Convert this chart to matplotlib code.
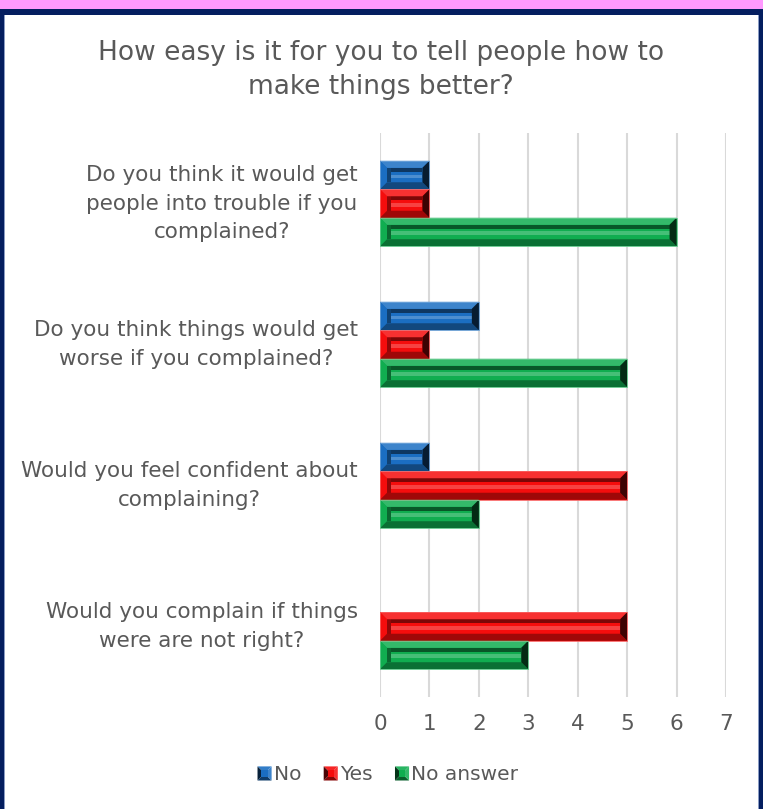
import numpy as np
import matplotlib.pyplot as plt
import matplotlib.colors as mcolors
from matplotlib.patches import Polygon, Rectangle
from matplotlib.legend_handler import HandlerBase

# survey answers per question
categories = [
    "Do you think it would get\npeople into trouble if you\ncomplained?",
    "Do you think things would get\nworse if you complained?",
    "Would you feel confident about\ncomplaining?",
    "Would you complain if things\nwere are not right?",
]
series_names = ["No", "Yes", "No answer"]
no_vals = [1, 2, 1, 0]
yes_vals = [1, 1, 5, 5]
no_answer_vals = [6, 5, 2, 3]
x_ticks = [0, 1, 2, 3, 4, 5, 6, 7]

series_vals = [no_vals, yes_vals, no_answer_vals]
colors = ["#1b6ec2", "#f50d0d", "#10ad50"]
text_col = "#595959"
FONT = "DejaVu Sans"

W, H, DPI = 763, 809, 100


def shade(c, f):
    r = np.array(mcolors.to_rgb(c))
    if f >= 0:
        return tuple(r + (1 - r) * f)
    return tuple(r * (1 + f))


def bevel_bar(ax, x0, yc, w, h, color, b=7, inner=4):
    """Draws one bar with a raised bevel frame (computed in pixels)."""
    if w <= 0:
        return
    td = ax.transData
    (L, B) = td.transform((x0, yc + h / 2))
    (R, T) = td.transform((x0 + w, yc - h / 2))
    B, T = min(B, T), max(B, T)
    inv = td.inverted()

    def poly(pts, c, z=3):
        ax.add_patch(Polygon(inv.transform(pts), closed=True, facecolor=c,
                             edgecolor="none", zorder=z))

    poly([(L, B), (R, B), (R, T), (L, T)], color)
    # inner recessed panel
    poly([(L + b, T - b), (R - b, T - b), (R - b, T - b - inner), (L + b, T - b - inner)],
         shade(color, -0.5), 4)
    poly([(L + b, B + b), (L + b + inner, B + b), (L + b + inner, T - b), (L + b, T - b)],
         shade(color, -0.4), 4)
    mid = (B + T) / 2 - 1
    poly([(L + b + inner, mid - 2), (R - b, mid - 2), (R - b, mid + 1.5), (L + b + inner, mid + 1.5)],
         shade(color, 0.22), 4)
    # outer frame
    poly([(L, T), (R, T), (R - b, T - b), (L + b, T - b)], shade(color, 0.15), 5)
    poly([(L, B), (L, T), (L + b, T - b), (L + b, B + b)], shade(color, 0.0), 5)
    poly([(L, B), (R, B), (R - b, B + b), (L + b, B + b)], shade(color, -0.35), 5)
    poly([(R, B), (R, T), (R - b, T - b), (R - b, B + b)], shade(color, -0.75), 5)
    ax.add_patch(Polygon(inv.transform([(L, B), (R, B), (R, T), (L, T)]), closed=True,
                         facecolor="none", edgecolor=shade(color, 0.35), lw=0.6, zorder=6))


class BevelHandler(HandlerBase):
    def create_artists(self, legend, orig_handle, xdescent, ydescent,
                       width, height, fontsize, trans):
        c = orig_handle.get_facecolor()
        s = height
        x0 = -xdescent + width - s
        y0 = -ydescent
        cx, cy = x0 + s / 2, y0 + s / 2
        corners = [(x0, y0), (x0 + s, y0), (x0 + s, y0 + s), (x0, y0 + s)]
        tones = [shade(c, -0.45), shade(c, 0.15), shade(c, 0.1), shade(c, -0.7)]
        arts = []
        # bottom, right, top, left triangles
        for i, tone in enumerate(tones):
            p = Polygon([corners[i], corners[(i + 1) % 4], (cx, cy)], closed=True,
                        facecolor=tone, edgecolor="none", transform=trans)
            arts.append(p)
        k = s * 0.22
        arts.append(Rectangle((cx - k, cy - k), 2 * k, 2 * k, facecolor=c,
                              edgecolor="none", transform=trans))
        return arts


fig = plt.figure(figsize=(W / DPI, H / DPI), dpi=DPI)
fig.patch.set_facecolor("white")

# frame: pink strip on top, navy border
fig.patches.append(Rectangle((0, 1 - 9 / H), 1, 9 / H, transform=fig.transFigure,
                             facecolor="#ff99ff", edgecolor="none", zorder=-10))
fig.patches.append(Rectangle((0, 0), 1, 1 - 9 / H, transform=fig.transFigure,
                             facecolor="#041e5f", edgecolor="none", zorder=-10))
fig.patches.append(Rectangle((4 / W, 0), 755 / W, 1 - 15 / H, transform=fig.transFigure,
                             facecolor="#8a9cc4", edgecolor="none", zorder=-9))
fig.patches.append(Rectangle((5 / W, 0), 753 / W, 1 - 15 / H, transform=fig.transFigure,
                             facecolor="white", edgecolor="none", zorder=-8))

ax = fig.add_axes([380 / W, 1 - 697 / H, 346 / W, 564 / H])
ax.set_facecolor("none")
ax.set_xlim(0, 7)
ax.set_ylim(3.5, -0.5)

bh = 0.202
offsets = [-bh, 0, bh]
y = np.arange(len(categories))
handles = []
for vals, off, col, name in zip(series_vals, offsets, colors, series_names):
    bars = ax.barh(y + off, vals, height=bh, color=col, alpha=0, label=name)
    handles.append(Rectangle((0, 0), 1, 1, facecolor=col, label=name))
    for yy, v in zip(y + off, vals):
        bevel_bar(ax, 0, yy, v, bh, col)

ax.set_xticks(x_ticks)
ax.set_xticklabels([str(t) for t in x_ticks], fontsize=15.5, color=text_col, family=FONT)
ax.set_yticks(y)
ax.set_yticklabels(categories, fontsize=15.5, color=text_col, family=FONT,
                   multialignment="center", linespacing=1.55)
for t in ax.get_yticklabels():
    t.set_verticalalignment("center")
ax.tick_params(axis="both", length=0)
ax.tick_params(axis="y", pad=16)
ax.tick_params(axis="x", pad=12)
ax.grid(axis="x", color="#d9d9d9", lw=1.5, zorder=0)
ax.set_axisbelow(True)
for sp in ax.spines.values():
    sp.set_visible(False)

fig.text(381 / W, 1 - 70 / H, "How easy is it for you to tell people how to\nmake things better?",
         ha="center", va="center", fontsize=19, color=text_col, family=FONT,
         multialignment="center", linespacing=1.45)

leg = fig.legend(handles=handles, labels=series_names, loc="center",
                 bbox_to_anchor=(387 / W, 1 - 775 / H), ncol=3, frameon=False,
                 handler_map={Rectangle: BevelHandler()},
                 handlelength=0.8, handleheight=0.7, handletextpad=0.12,
                 columnspacing=1.0, prop={"family": FONT, "size": 14.5})
for t in leg.get_texts():
    t.set_color(text_col)

fig.savefig("out.png", dpi=DPI)
